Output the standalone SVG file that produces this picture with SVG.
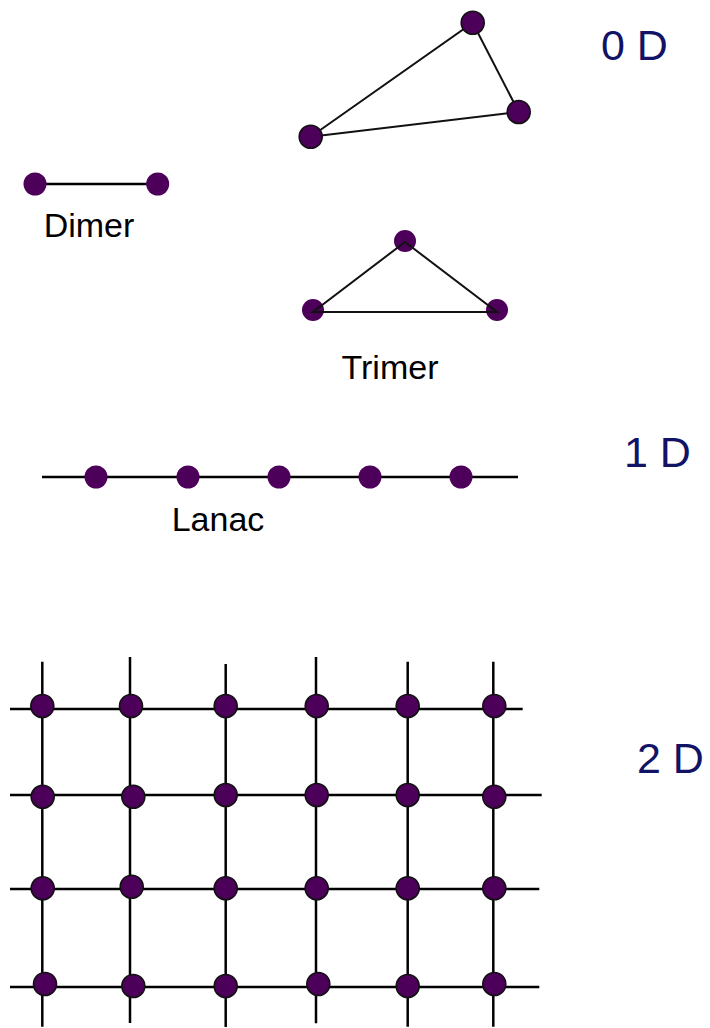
<svg xmlns="http://www.w3.org/2000/svg" width="710" height="1028" viewBox="0 0 710 1028">
<style>
.ln{stroke:#000;stroke-width:2.5;fill:none;stroke-linecap:butt}
.tl{stroke:#111;stroke-width:2;fill:none}
.a{fill:#4c0059}
.b{fill:#4c0059;stroke:#111;stroke-width:1.6}
.lbl{font-family:"Liberation Sans",Arial,sans-serif;font-size:34px;fill:#000}
.dim{font-family:"Liberation Sans",Arial,sans-serif;font-size:43px;fill:#121266}
</style>
<rect width="710" height="1028" fill="#fff"/>
<g id="connectors">
  <polygon class="tl" points="472.7,22.7 518.7,112 310.7,136.7"/>
  <line class="ln" x1="35" y1="184" x2="157.7" y2="184"/>
  <line class="ln" x1="42" y1="477" x2="518" y2="477"/>
  <line class="ln" x1="10" y1="709" x2="522.7" y2="709"/>
  <line class="ln" x1="10" y1="795" x2="541.7" y2="795"/>
  <line class="ln" x1="10" y1="889" x2="539.3" y2="889"/>
  <line class="ln" x1="10" y1="987" x2="539.3" y2="987"/>
  <line class="ln" x1="42.3" y1="661.7" x2="42.3" y2="1026.7"/>
  <line class="ln" x1="130" y1="657" x2="130" y2="1023"/>
  <line class="ln" x1="225.7" y1="664" x2="225.7" y2="1027"/>
  <line class="ln" x1="316" y1="657" x2="316" y2="1023.3"/>
  <line class="ln" x1="407.7" y1="661.7" x2="407.7" y2="1026.7"/>
  <line class="ln" x1="493.3" y1="661.7" x2="493.3" y2="1026.7"/>
</g>
<g id="zeroD">
  <g id="tri0-a"><circle class="b" cx="472.7" cy="22.7" r="11.5"/></g>
  <g id="tri0-b"><circle class="b" cx="518.7" cy="112" r="11.5"/></g>
  <g id="tri0-c"><circle class="b" cx="310.7" cy="136.7" r="11.5"/></g>
  <text class="dim" x="601" y="60">0 D</text>
</g>
<g id="dimer">
  <circle class="a" cx="35" cy="184" r="11.5"/>
  <circle class="a" cx="157.7" cy="184" r="11.5"/>
  <text class="lbl" x="89" y="237" text-anchor="middle">Dimer</text>
</g>
<g id="trimer">
  <circle class="a" cx="405" cy="241" r="11"/>
  <circle class="a" cx="313" cy="310" r="11"/>
  <circle class="a" cx="497" cy="310" r="11"/>
  <polygon class="tl" points="405,242 313,312 497,312"/>
  <text class="lbl" x="390" y="379" text-anchor="middle">Trimer</text>
</g>
<g id="lanac">
  <circle class="a" cx="96" cy="477" r="11.5"/>
  <circle class="a" cx="188" cy="477" r="11.5"/>
  <circle class="a" cx="279" cy="477" r="11.5"/>
  <circle class="a" cx="370" cy="477" r="11.5"/>
  <circle class="a" cx="461" cy="477" r="11.5"/>
  <text class="lbl" x="218" y="531" text-anchor="middle">Lanac</text>
  <text class="dim" x="624" y="467">1 D</text>
</g>
<g id="lattice">
  <circle class="b" cx="42.3" cy="706" r="11.5"/>
  <circle class="b" cx="131" cy="706" r="11.5"/>
  <circle class="b" cx="225.7" cy="706" r="11.5"/>
  <circle class="b" cx="316.7" cy="706" r="11.5"/>
  <circle class="b" cx="407.7" cy="706" r="11.5"/>
  <circle class="b" cx="494.3" cy="706" r="11.5"/>
  <circle class="b" cx="42.7" cy="796.7" r="11.5"/>
  <circle class="b" cx="133.3" cy="796.7" r="11.5"/>
  <circle class="b" cx="225.7" cy="795" r="11.5"/>
  <circle class="b" cx="316.7" cy="795" r="11.5"/>
  <circle class="b" cx="407.7" cy="795" r="11.5"/>
  <circle class="b" cx="494.3" cy="796.7" r="11.5"/>
  <circle class="b" cx="42.7" cy="888.3" r="11.5"/>
  <circle class="b" cx="131.7" cy="886.7" r="11.5"/>
  <circle class="b" cx="225.7" cy="888.3" r="11.5"/>
  <circle class="b" cx="316.7" cy="888.3" r="11.5"/>
  <circle class="b" cx="407.7" cy="888.3" r="11.5"/>
  <circle class="b" cx="494.3" cy="888.3" r="11.5"/>
  <circle class="b" cx="45" cy="984" r="11.5"/>
  <circle class="b" cx="133.3" cy="986" r="11.5"/>
  <circle class="b" cx="225.7" cy="986" r="11.5"/>
  <circle class="b" cx="318.3" cy="984" r="11.5"/>
  <circle class="b" cx="407.7" cy="986" r="11.5"/>
  <circle class="b" cx="494.3" cy="984" r="11.5"/>
  <text class="dim" x="637" y="773">2 D</text>
</g>
</svg>
